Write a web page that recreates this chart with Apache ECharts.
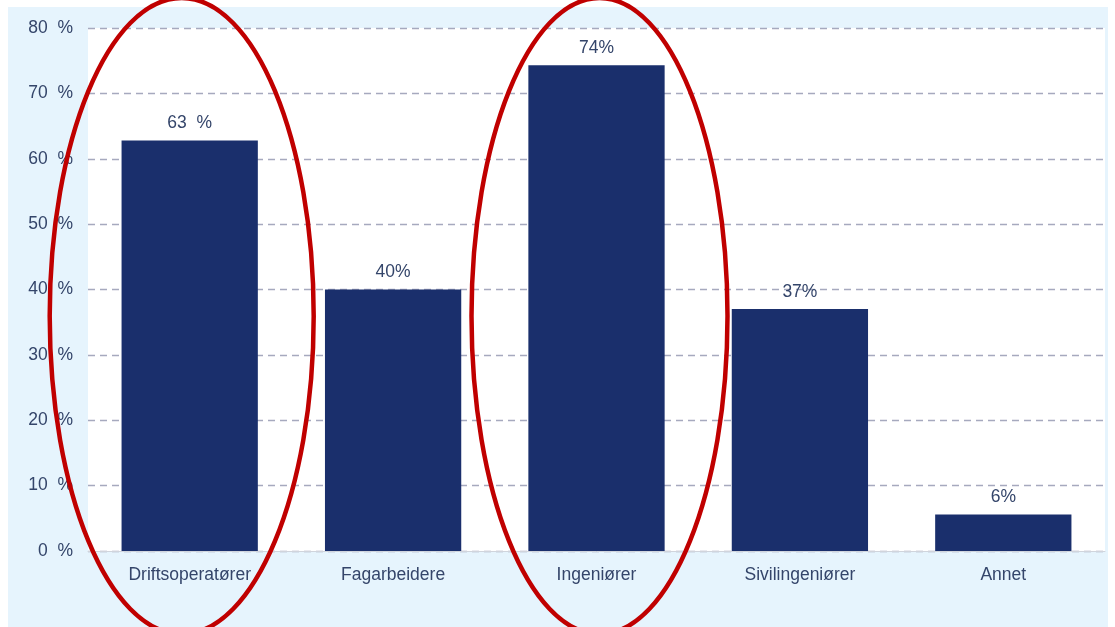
<!DOCTYPE html>
<html><head><meta charset="utf-8">
<script src="https://cdn.jsdelivr.net/npm/echarts@6/dist/echarts.min.js"></script>
<style>html,body{margin:0;padding:0;background:#fff}#c{width:1115px;height:627px}</style>
</head><body><div id="c"></div>
<script>
var categories = ['Driftsoperatører', 'Fagarbeidere', 'Ingeniører', 'Sivilingeniører', 'Annet'];
var values = [62.8, 40, 74.3, 37, 5.6];
var valueLabels = ['63  %', '40%', '74%', '37%', '6%'];
var highlighted = ['Driftsoperatører', 'Ingeniører'];

var chart = echarts.init(document.getElementById('c'), null, {renderer: 'canvas'});
var textColor = '#34456a';
var font = 'Liberation Sans, Arial, sans-serif';
var option = {
  animation: false,
  backgroundColor: '#ffffff',
  graphic: [{type: 'rect', z: -10, silent: true, shape: {x: 8, y: 7, width: 1100, height: 640}, style: {fill: '#e6f4fd'}}],
  grid: {left: 88, right: 10, top: 28, bottom: 76, show: true, backgroundColor: '#ffffff', borderWidth: 0},
  xAxis: {
    type: 'category', data: categories,
    axisTick: {show: false},
    axisLine: {lineStyle: {color: '#d0d4dc', width: 1}},
    axisLabel: {color: textColor, fontSize: 17.5, fontFamily: font, margin: 15}
  },
  yAxis: {
    type: 'value', min: 0, max: 80, interval: 10,
    axisLine: {show: false}, axisTick: {show: false},
    axisLabel: {color: textColor, fontSize: 17.5, fontFamily: font, margin: 15,
      formatter: function (v) { return v + '  %'; }},
    splitLine: {lineStyle: {color: '#a6a9be', type: [7, 5], width: 1.3}}
  },
  series: [{
    type: 'bar', data: values, barWidth: '67%',
    itemStyle: {color: '#1a2f6c'},
    label: {show: true, position: 'top', distance: 8, color: textColor, fontSize: 17.5, fontFamily: font,
      formatter: function (p) { return valueLabels[p.dataIndex]; }}
  }]
};
chart.setOption(option);

// red annotation ellipses drawn around the highlighted categories
var annotationShift = [-8, 3];
var annotationRx = [132, 128];
var g = option.graphic.slice();
highlighted.forEach(function (name, k) {
  var cx = chart.convertToPixel({xAxisIndex: 0}, name);
  g.push({type: 'ellipse', silent: true, z: 100,
    shape: {cx: cx + annotationShift[k], cy: 316, rx: annotationRx[k], ry: 318},
    style: {fill: null, stroke: '#c00000', lineWidth: 4.5}});
});
chart.setOption({graphic: g}, {replaceMerge: ['graphic']});
</script></body></html>
